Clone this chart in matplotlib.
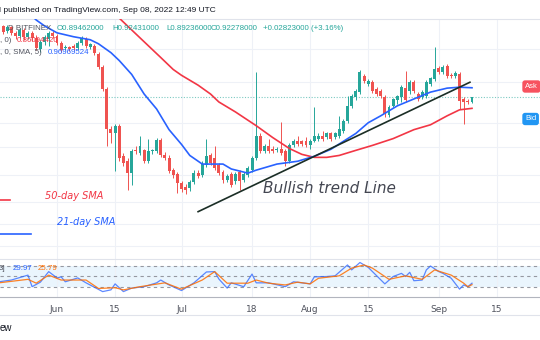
"""
Daily candles with 21/50-day SMA, trend line and Stoch RSI pane
"""
import numpy as np
import pandas as pd
import matplotlib
matplotlib.use('Agg')
import matplotlib.pyplot as plt
import matplotlib.dates as mdates
from matplotlib.ticker import NullLocator
from matplotlib.lines import Line2D

# ---- data ----
dates = pd.date_range('2022-05-18', '2022-09-09', freq='D')

opens = [1.320, 1.364, 1.327, 1.356, 1.313, 1.292, 1.334, 1.285, 1.313, 1.278,
         1.203, 1.250, 1.271, 1.313, 1.292, 1.243, 1.210, 1.216, 1.223, 1.210,
         1.243, 1.271, 1.216, 1.223, 1.171, 1.085, 0.963, 0.774, 0.758, 0.787,
         0.665, 0.647, 0.606, 0.687, 0.676, 0.687, 0.647, 0.683, 0.683, 0.729,
         0.668, 0.658, 0.616, 0.603, 0.574, 0.562, 0.558, 0.577, 0.606, 0.600,
         0.633, 0.668, 0.658, 0.633, 0.610, 0.583, 0.603, 0.580, 0.610, 0.583,
         0.600, 0.616, 0.658, 0.745, 0.683, 0.702, 0.694, 0.687, 0.694, 0.683,
         0.647, 0.706, 0.722, 0.722, 0.722, 0.706, 0.725, 0.733, 0.745, 0.741,
         0.754, 0.741, 0.745, 0.766, 0.809, 0.878, 0.922, 0.947, 1.033, 0.989,
         1.000, 0.963, 0.952, 0.922, 0.835, 0.878, 0.907, 0.922, 0.968, 0.952,
         1.000, 0.937, 0.922, 0.927, 0.989, 1.016, 1.079, 1.056, 1.091, 1.039,
         1.033, 1.044, 0.912, 0.902, 0.89462]
highs = [1.379, 1.371, 1.371, 1.364, 1.327, 1.349, 1.349, 1.327, 1.327, 1.299,
         1.264, 1.299, 1.327, 1.327, 1.306, 1.257, 1.230, 1.223, 1.236, 1.257,
         1.292, 1.285, 1.243, 1.236, 1.184, 1.097, 0.973, 0.787, 0.796, 0.796,
         0.676, 0.658, 0.694, 0.702, 0.745, 0.694, 0.733, 0.694, 0.737, 0.737,
         0.679, 0.668, 0.623, 0.610, 0.580, 0.571, 0.583, 0.616, 0.616, 0.647,
         0.733, 0.676, 0.702, 0.640, 0.616, 0.603, 0.610, 0.610, 0.616, 0.610,
         0.630, 0.665, 1.056, 0.754, 0.710, 0.733, 0.702, 0.698, 0.804, 0.691,
         0.714, 0.733, 0.745, 0.729, 0.741, 0.733, 0.873, 0.754, 0.766, 0.762,
         0.762, 0.762, 0.831, 0.818, 0.927, 0.937, 0.963, 1.068, 1.044, 1.016,
         1.011, 0.973, 0.963, 0.932, 0.882, 0.917, 0.932, 0.984, 1.062, 1.011,
         1.011, 0.947, 0.957, 1.011, 1.028, 1.216, 1.091, 1.097, 1.103, 1.050,
         1.062, 1.056, 0.922, 0.912, 0.92431]
lows = [1.306, 1.306, 1.313, 1.299, 1.271, 1.278, 1.264, 1.271, 1.257, 1.197,
        1.184, 1.230, 1.223, 1.278, 1.230, 1.184, 1.197, 1.190, 1.197, 1.197,
        1.230, 1.210, 1.203, 1.165, 1.073, 0.952, 0.702, 0.714, 0.613, 0.647,
        0.630, 0.552, 0.568, 0.672, 0.668, 0.640, 0.640, 0.672, 0.676, 0.661,
        0.651, 0.606, 0.590, 0.543, 0.546, 0.541, 0.549, 0.571, 0.590, 0.593,
        0.626, 0.633, 0.616, 0.600, 0.574, 0.577, 0.562, 0.571, 0.552, 0.577,
        0.593, 0.610, 0.651, 0.676, 0.676, 0.676, 0.676, 0.679, 0.668, 0.630,
        0.640, 0.698, 0.702, 0.702, 0.698, 0.694, 0.718, 0.725, 0.725, 0.733,
        0.725, 0.733, 0.737, 0.758, 0.800, 0.868, 0.907, 0.937, 0.995, 0.978,
        0.942, 0.927, 0.917, 0.826, 0.826, 0.873, 0.887, 0.897, 0.897, 0.937,
        0.942, 0.902, 0.912, 0.917, 0.978, 1.005, 1.044, 1.044, 1.022, 1.022,
        1.022, 0.863, 0.796, 0.887, 0.89236]
closes = [1.364, 1.320, 1.356, 1.313, 1.292, 1.334, 1.285, 1.313, 1.278, 1.210,
          1.250, 1.285, 1.313, 1.292, 1.243, 1.197, 1.216, 1.203, 1.210, 1.243,
          1.278, 1.223, 1.236, 1.177, 1.085, 0.963, 0.774, 0.758, 0.787, 0.658,
          0.640, 0.606, 0.683, 0.683, 0.702, 0.647, 0.683, 0.687, 0.729, 0.668,
          0.658, 0.613, 0.600, 0.574, 0.555, 0.552, 0.577, 0.606, 0.596, 0.637,
          0.665, 0.640, 0.623, 0.606, 0.583, 0.596, 0.568, 0.603, 0.580, 0.603,
          0.623, 0.658, 0.745, 0.683, 0.702, 0.683, 0.683, 0.691, 0.676, 0.647,
          0.706, 0.725, 0.710, 0.710, 0.706, 0.725, 0.745, 0.745, 0.733, 0.754,
          0.733, 0.754, 0.774, 0.809, 0.878, 0.927, 0.952, 1.056, 1.005, 1.005,
          0.952, 0.937, 0.927, 0.840, 0.873, 0.912, 0.927, 0.973, 0.907, 1.000,
          0.952, 0.912, 0.947, 1.000, 1.022, 1.073, 1.056, 1.085, 1.033, 1.033,
          1.050, 0.902, 0.897, 0.89455, 0.92278]

# moving averages, sampled (days counted from Jun 1)
sma21_days = [-6, -5, -3, 0, 4, 8, 10, 13, 15, 18, 21, 24, 27, 30, 32, 35, 37, 40, 42, 46,
              48, 53, 58, 62, 66, 69, 72, 75, 78, 82, 86, 90, 94, 97, 100]
sma21_vals = [1.44, 1.409, 1.364, 1.313, 1.285, 1.264, 1.236, 1.177, 1.127, 1.044,
              0.937, 0.863, 0.770, 0.710, 0.668, 0.637, 0.637, 0.637, 0.620, 0.606,
              0.616, 0.637, 0.647, 0.665, 0.691, 0.722, 0.754, 0.800, 0.831, 0.878,
              0.912, 0.947, 0.968, 0.973, 0.970]
sma50_days = [13, 15, 18, 22, 25, 28, 30, 34, 37, 39, 43, 48, 52, 56, 59, 62, 65, 68, 72, 76,
              81, 86, 90, 94, 97, 100]
sma50_vals = [1.472, 1.424, 1.334, 1.223, 1.146, 1.073, 1.039, 0.984, 0.937, 0.897,
              0.849, 0.787, 0.737, 0.694, 0.672, 0.661, 0.661, 0.668, 0.687, 0.706,
              0.733, 0.770, 0.791, 0.831, 0.859, 0.866]

# stochastic RSI (K blue, D orange)
k_days = [-14, -11, -7, -6, -4, -2, 0, 1, 2, 5, 7, 11, 13, 14, 16, 18, 21, 24, 25, 27,
          30, 33, 36, 38, 39, 41, 42, 45, 47, 48, 51, 55, 57, 61, 62, 65, 67, 70, 71, 73,
          75, 79, 81, 83, 84, 85, 86, 88, 89, 90, 92, 93, 95, 97, 98, 99, 100]
k_vals = [34, 39, 53, 20, 33, 63, 45, 48, 34, 45, 31, 6, 11, 28, 6, 16, 20, 31, 39, 25,
          9, 31, 62, 63, 42, 16, 31, 20, 56, 31, 31, 20, 34, 28, 48, 49, 51, 82, 68, 89,
          75, 28, 49, 58, 49, 61, 37, 39, 68, 79, 63, 58, 44, 13, 25, 20, 29.97]
d_days = [-14, -7, -5, -2, 1, 7, 10, 14, 16, 20, 26, 30, 35, 38, 41, 46, 48, 51, 55, 58,
          61, 63, 68, 71, 74, 76, 80, 84, 88, 91, 95, 98, 99, 100]
d_vals = [31, 41, 30, 53, 39, 39, 15, 17, 11, 20, 31, 13, 39, 63, 30, 30, 39, 30, 25, 33,
          28, 44, 51, 73, 82, 73, 41, 51, 41, 68, 53, 30, 20, 25.79]

# hand drawn trend line (days from Jun 1)
trend_days = [34, 99.5]
trend_prices = [0.490, 1.0]

grid_prices = [1.203, 1.0, 0.800, 0.698, 0.600, 0.5175, 0.4566, 0.405]
tick_dates = ['2022-06-01', '2022-06-15', '2022-07-01', '2022-07-18',
              '2022-08-01', '2022-08-15', '2022-09-01', '2022-09-15']
tick_labels = ['Jun', '15', 'Jul', '18', 'Aug', '15', 'Sep', '15']

# ---- figure ----
GREEN, RED = '#26a69a', '#ef5350'
GRID = '#eef1f7'
UI_FONT = ['Liberation Sans', 'DejaVu Sans']

fig = plt.figure(figsize=(5.4, 3.4), dpi=100)
ax = fig.add_axes([0, 81 / 340, 1, 240 / 340])
ax2 = fig.add_axes([0, 43 / 340, 1, 38 / 340])

x = mdates.date2num(dates)
jun1 = mdates.date2num(pd.Timestamp('2022-06-01'))
xlim = (jun1 - 57 / 4.15, jun1 + 483 / 4.15)
ticks = mdates.date2num(pd.to_datetime(tick_dates))

o, h, l, c = map(np.array, (opens, highs, lows, closes))
up = c >= o
colors = np.where(up, GREEN, RED)

ax.vlines(x, l, h, colors=colors, linewidth=0.7, zorder=3)
ax.bar(x, np.abs(c - o), bottom=np.minimum(o, c), width=0.7, color=colors,
       linewidth=0, zorder=3)

ax.plot(jun1 + np.array(sma50_days), sma50_vals, color='#f23645', lw=1.2, zorder=4)
ax.plot(jun1 + np.array(sma21_days), sma21_vals, color='#2962ff', lw=1.2, zorder=4)
ax.plot(jun1 + np.array(trend_days), trend_prices, color='#1b2e26', lw=1.2, zorder=5)

# last price line
ax.axhline(closes[-1], color=GREEN, lw=0.8, ls=(0, (1, 1.5)), alpha=0.6, zorder=2)

ax.set_yscale('log')
# pane runs from y=19px (1.417) to y=259px (0.378)
ax.set_ylim(0.3775, 1.417)
ax.set_xlim(*xlim)
ax.yaxis.set_minor_locator(NullLocator())
ax.set_yticks(grid_prices)
ax.set_xticks(ticks)
ax.tick_params(length=0, labelleft=False, labelbottom=False)
ax.grid(True, color=GRID, lw=0.8)
ax.set_axisbelow(True)
for s in ['left', 'right', 'bottom']:
    ax.spines[s].set_visible(False)
ax.spines['top'].set_color('#e0e3eb')
ax.spines['top'].set_linewidth(0.8)

# annotations on the price pane (axes fraction: (259 - ypx) / 240)
ax.text(0.487, 0.2917, 'Bullish trend Line', transform=ax.transAxes, fontsize=11,
        style='italic', color='#434651', va='center')
ax.text(0.083, 0.2625, '50-day SMA', transform=ax.transAxes, fontsize=7,
        style='italic', color='#f23645', va='center')
ax.text(0.1056, 0.1542, '21-day SMA', transform=ax.transAxes, fontsize=7,
        style='italic', color='#2962ff', va='center')
ax.plot([0, 10 / 540], [0.2458, 0.2458], transform=ax.transAxes, color='#f23645', lw=1.2)
ax.plot([0, 31 / 540], [0.1042, 0.1042], transform=ax.transAxes, color='#2962ff', lw=1.2)

# stoch RSI pane
ax2.axhspan(20, 80, color='#2196f3', alpha=0.09, lw=0)
for lvl in (80, 50, 20):
    ax2.axhline(lvl, color='#9598a1', lw=0.8, ls=(0, (3, 3)))
ax2.plot(jun1 + np.array(k_days), k_vals, color='#2962ff', lw=0.9, alpha=0.75)
ax2.plot(jun1 + np.array(d_days), d_vals, color='#ff6d00', lw=0.9, alpha=0.85)
ax2.set_ylim(-9.4, 99)
ax2.set_xlim(*xlim)
ax2.set_yticks([])
ax2.set_xticks(ticks)
ax2.set_xticklabels(tick_labels, fontsize=6.5, color='#50535e')
ax2.tick_params(length=0, pad=6)
ax2.grid(True, axis='x', color=GRID, lw=0.8)
for s in ['left', 'right']:
    ax2.spines[s].set_visible(False)
ax2.spines['top'].set_color('#e0e3eb')
ax2.spines['top'].set_linewidth(0.8)
ax2.spines['bottom'].set_color('#b2b5be')
ax2.spines['bottom'].set_linewidth(0.8)

# header and legends
def px(xp, yp):
    return xp / 540, 1 - yp / 340

fig.text(*px(-1, 10), 'l published on TradingView.com, Sep 08, 2022 12:49 UTC',
         fontsize=6.0, color='#131722', va='center', family=UI_FONT)
fig.text(*px(8, 29), 'D BITFINEX', fontsize=5.7, color='#50535e', va='center',
         family=UI_FONT)
for xp, s in [(57, 'O0.89462000'), (112, 'H0.92431000'), (166, 'L0.89236000'),
              (211, 'C0.92278000'), (263, '+0.02823000 (+3.16%)')]:
    fig.text(*px(xp, 29), s, fontsize=5.7, color=GREEN, va='center', family=UI_FONT)
fig.text(*px(0, 41), ', 0)', fontsize=5.7, color='#50535e', va='center', family=UI_FONT)
fig.text(*px(17, 41), '0.86094420', fontsize=5.7, color='#f23645', va='center',
         family=UI_FONT)
fig.text(*px(0, 53), ', 0, SMA, 5)', fontsize=5.7, color='#50535e', va='center',
         family=UI_FONT)
fig.text(*px(48, 53), '0.96969524', fontsize=5.7, color='#2962ff', va='center',
         family=UI_FONT)

fig.text(*px(-1, 269), '3]', fontsize=5.7, color='#50535e', va='center', family=UI_FONT)
fig.text(*px(13, 269), '29.97', fontsize=5.7, color='#2962ff', va='center', family=UI_FONT)
fig.text(*px(38, 269), '25.79', fontsize=5.7, color='#ff6d00', va='center', family=UI_FONT)

fig.text(*px(525, 86.5), 'Ask', fontsize=5.5, color='white', va='center', family=UI_FONT,
         bbox=dict(boxstyle='round,pad=0.35', fc='#f7525f', ec='none'))
fig.text(*px(525, 119), 'Bid', fontsize=5.5, color='white', va='center', family=UI_FONT,
         bbox=dict(boxstyle='round,pad=0.35', fc='#2196f3', ec='none'))

fig.add_artist(Line2D([0, 1], [1 - 315 / 340] * 2, color='#e0e3eb', lw=0.8))
fig.text(*px(0, 328), 'ew', fontsize=7, color='#131722', va='center', family=UI_FONT)

fig.savefig('out.png', dpi=100)
